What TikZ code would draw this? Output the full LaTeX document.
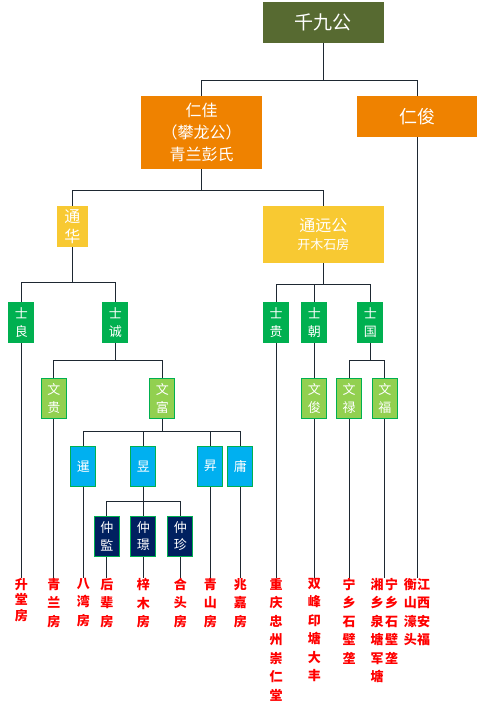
\documentclass[tikz,border=0pt]{standalone}
\usepackage{fontspec}
\setmainfont{Noto Sans CJK SC}
\usetikzlibrary{positioning}
\definecolor{olivebox}{HTML}{576A31}
\definecolor{orangebox}{HTML}{EF8200}
\definecolor{yellowbox}{HTML}{F8C932}
\definecolor{greenbox}{HTML}{00B050}
\definecolor{lightgreen}{HTML}{92D050}
\definecolor{bluebox}{HTML}{00B0F0}
\definecolor{navybox}{HTML}{002060}
\definecolor{linkline}{HTML}{1E2832}
\begin{document}
\begin{tikzpicture}[x=1pt,y=-1pt,
	box/.style={inner sep=0pt,text=white,align=center},
	zu/.style={box,fill=olivebox,minimum width=121pt,minimum height=41pt,
		font=\fontsize{19}{22}\selectfont},
	ren/.style={box,fill=orangebox,minimum width=121pt,font=\fontsize{16}{22}\selectfont},
	tong/.style={box,fill=yellowbox,font=\fontsize{16}{20}\selectfont},
	tall/.style={box,minimum width=26pt,minimum height=41pt,
		font=\fontsize{13}{17.5}\selectfont},
	shi/.style={tall,fill=greenbox},
	wen/.style={tall,fill=lightgreen,draw=greenbox,line width=1pt,minimum width=25pt,minimum height=40pt},
	gen/.style={wen,fill=bluebox},
	zhong/.style={wen,fill=navybox},
	link/.style={draw=linkline,line width=1pt},
	fang/.style={anchor=north,inner sep=0pt,text=red,align=center,
		font=\bfseries\fontsize{13}{18.5}\selectfont}]
	\useasboundingbox (0,0) rectangle (477,707);
	\node[zu] (qjg) at (323.3,22.5) {千九公};
	\node[ren,minimum height=73pt] (rj) at (201.5,132.5) {仁佳\\（攀龙公）\\青兰彭氏};
	\node[ren,minimum width=120pt,minimum height=41pt,font=\fontsize{18}{22}\selectfont] (rjun) at (417,116.5) {仁俊};
	\node[tong,minimum width=31pt,minimum height=41pt] (th) at (72.3,226.3) {通\\华};
	\node[tong,minimum width=121pt,minimum height=57pt] (tyg) at (323.3,234.3)
		{通远公\\[-2pt]{\fontsize{13}{16}\selectfont 开木石房}};
	\node[shi] (sl) at (21.3,322.5) {士\\良};
	\node[shi] (sc) at (115.3,322.5) {士\\诚};
	\node[shi] (sg) at (276,322.5) {士\\贵};
	\node[shi] (sch) at (314.3,322.5) {士\\朝};
	\node[shi] (sgu) at (370.3,322.5) {士\\国};
	\node[wen] (wg) at (53.8,398.3) {文\\贵};
	\node[wen] (wf) at (162.3,398.3) {文\\富};
	\node[wen] (wj) at (314.3,398.3) {文\\俊};
	\node[wen] (wl) at (349,398.3) {文\\禄};
	\node[wen] (wfu) at (384.8,398.3) {文\\福};
	\node[gen] (xian) at (83.3,466.3) {暹};
	\node[gen] (yu) at (143.3,466.3) {昱};
	\node[gen] (sheng) at (210.3,466.3) {昇};
	\node[gen] (yong) at (240.3,466.3) {庸};
	\node[zhong] (zj) at (106.8,536.3) {仲\\監};
	\node[zhong] (zjing) at (143.3,536.3) {仲\\璟};
	\node[zhong] (zz) at (180.3,536.3) {仲\\珍};

	\node[fang,font=\bfseries\fontsize{13}{15.5}\selectfont] (f1) at (sl.south |- 0,578) {升\\堂\\房};
	\node[fang] (f2) at (wg.south |- 0,578) {青\\兰\\房};
	\node[fang] (f3) at (xian.south |- 0,578) {八\\湾\\房};
	\node[fang] (f4) at (zj.south |- 0,578) {后\\辈\\房};
	\node[fang] (f5) at (zjing.south |- 0,578) {梓\\木\\房};
	\node[fang] (f6) at (zz.south |- 0,578) {合\\头\\房};
	\node[fang] (f7) at (sheng.south |- 0,578) {青\\山\\房};
	\node[fang] (f8) at (yong.south |- 0,578) {兆\\嘉\\房};
	\node[fang] (f9) at (sg.south |- 0,578) {重\\庆\\忠\\州\\崇\\仁\\堂};
	\node[fang] (f10) at (wj.south |- 0,578) {双\\峰\\印\\塘\\大\\丰};
	\node[fang] (f11) at (wl.south |- 0,578) {宁\\乡\\石\\壁\\垄};
	\coordinate (e1) at (wfu.south |- 0,578);
	\node[fang,anchor=north east] (f12) at ([xshift=-1pt]e1) {湘\\乡\\泉\\塘\\军\\塘};
	\node[fang,anchor=north west] (f13) at ([xshift=0pt]e1) {宁\\乡\\石\\壁\\垄};
	\coordinate (e2) at (rjun.south |- 0,578);
	\node[fang,anchor=north east] (f14) at ([xshift=0pt]e2) {衡\\山\\濠\\头};
	\node[fang,anchor=north west] (f15) at ([xshift=0pt]e2) {江\\西\\安\\福};

	\draw[link] (qjg.south) -- ++(0,37) -| (rj.north);
	\draw[link] (qjg.south) -- ++(0,37) -| (rjun.north);
	\draw[link] (rj.south) -- ++(0,21) -| (th.north);
	\draw[link] (rj.south) -- ++(0,21) -| (tyg.north);
	\draw[link] (th.south) -- ++(0,35) -| (sl.north);
	\draw[link] (th.south) -- ++(0,35) -| (sc.north);
	\draw[link] (tyg.south) -- ++(0,21) -| (sg.north);
	\draw[link] (tyg.south) -- ++(0,21) -| (sch.north);
	\draw[link] (tyg.south) -- ++(0,21) -| (sgu.north);
	\draw[link] (sc.south) -- ++(0,17) -| (wg.north);
	\draw[link] (sc.south) -- ++(0,17) -| (wf.north);
	\draw[link] (sch.south) -- (wj.north);
	\draw[link] (sgu.south) -- ++(0,17) -| (wl.north);
	\draw[link] (sgu.south) -- ++(0,17) -| (wfu.north);
	\draw[link] (wf.south) -- ++(0,13) -| (xian.north);
	\draw[link] (wf.south) -- ++(0,13) -| (yu.north);
	\draw[link] (wf.south) -- ++(0,13) -| (sheng.north);
	\draw[link] (wf.south) -- ++(0,13) -| (yong.north);
	\draw[link] (yu.south) -- ++(0,15) -| (zj.north);
	\draw[link] (yu.south) -- ++(0,15) -| (zjing.north);
	\draw[link] (yu.south) -- ++(0,15) -| (zz.north);
	\draw[link] (sl.south) -- (f1.north);
	\draw[link] (wg.south) -- (f2.north);
	\draw[link] (xian.south) -- (f3.north);
	\draw[link] (zj.south) -- (f4.north);
	\draw[link] (zjing.south) -- (f5.north);
	\draw[link] (zz.south) -- (f6.north);
	\draw[link] (sheng.south) -- (f7.north);
	\draw[link] (yong.south) -- (f8.north);
	\draw[link] (sg.south) -- (f9.north);
	\draw[link] (wj.south) -- (f10.north);
	\draw[link] (wl.south) -- (f11.north);
	\draw[link] (wfu.south) -- (e1);
	\draw[link] (rjun.south) -- (e2);
\end{tikzpicture}
\end{document}
